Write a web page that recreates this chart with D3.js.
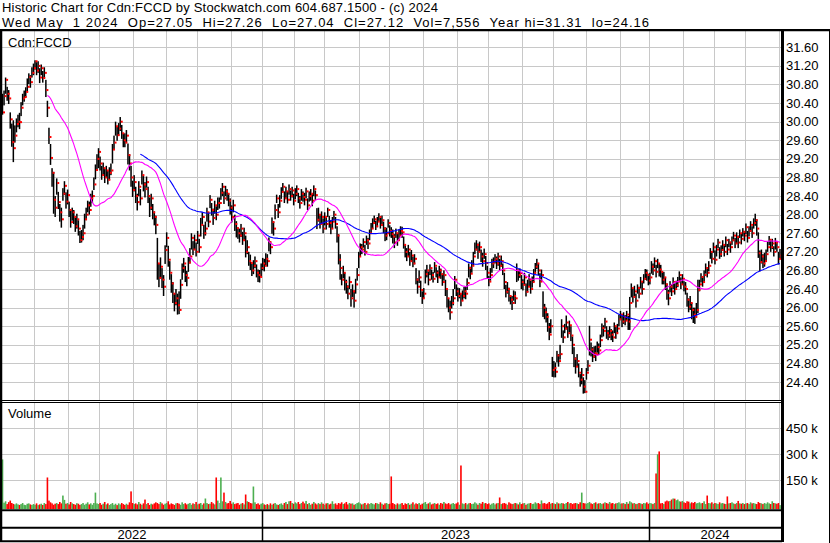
<!DOCTYPE html>
<html>
<head>
<meta charset="utf-8">
<script src="https://d3js.org/d3.v7.min.js"></script>
<style>
  body { margin: 0; background: #fff; }
  svg text { font-family: Arial, "Liberation Sans", sans-serif; fill: #000; }
</style>
</head>
<body>
<div id="chart"></div>
<script>
// Cdn:FCCD daily bars, May 2 2022 - May 1 2024
var titleLine = "Historic Chart for Cdn:FCCD by Stockwatch.com 604.687.1500 - (c) 2024";
var infoLine = "Wed May  1 2024  Op=27.05  Hi=27.26  Lo=27.04  Cl=27.12  Vol=7,556  Year hi=31.31  lo=24.16";

// daily close
var closes = [
  30.20,30.55,30.90,30.60,30.50,30.05,29.56,29.43,29.70,29.95,
  30.00,29.99,30.30,30.50,30.53,30.64,30.75,30.96,30.85,31.05,
  31.15,31.30,31.10,31.20,30.95,31.15,30.94,31.05,30.68,30.30,
  29.67,29.22,28.90,28.32,28.15,28.68,28.27,28.05,27.90,28.45,
  28.62,28.28,28.42,28.10,27.84,28.05,27.95,27.75,27.90,27.70,
  27.45,27.52,27.60,27.90,28.00,28.20,28.10,28.35,28.40,28.65,
  28.96,29.20,29.35,29.10,28.85,29.00,28.80,28.95,28.75,28.90,
  28.95,29.40,29.55,29.90,29.71,29.85,30.00,29.75,29.60,29.55,
  29.70,29.28,29.10,28.80,28.53,28.70,28.40,28.27,28.60,28.35,
  28.85,28.65,28.55,28.70,28.40,28.15,28.35,28.05,27.95,27.78,
  26.95,26.64,26.88,26.60,26.45,27.24,27.50,27.03,26.75,26.52,
  26.30,26.10,26.20,26.05,25.95,26.49,26.85,26.95,26.70,26.64,
  26.97,27.10,27.50,27.25,27.45,27.20,27.55,27.30,27.78,27.95,
  27.60,27.70,28.05,27.85,28.32,28.10,27.93,28.20,28.00,28.25,
  28.25,28.47,28.60,28.35,28.50,28.45,28.30,28.15,27.95,28.20,
  27.80,27.71,27.60,27.55,27.70,27.45,27.60,27.20,27.30,27.00,
  26.96,26.80,26.90,27.00,26.75,26.70,26.66,26.85,26.95,26.90,
  27.05,27.00,27.41,27.30,27.84,27.70,28.10,28.35,28.05,28.30,
  28.49,28.60,28.35,28.50,28.32,28.55,28.40,28.52,28.30,28.45,
  28.55,28.35,28.25,28.45,28.38,28.32,28.50,28.20,28.40,28.45,
  28.30,28.55,28.42,27.89,28.00,27.80,27.95,27.70,27.95,27.80,
  28.10,27.82,27.70,27.85,28.00,27.80,27.55,27.03,26.85,26.60,
  26.75,26.55,26.45,26.30,26.55,26.20,26.35,26.15,26.50,26.70,
  27.10,27.30,27.25,27.41,27.20,27.45,27.38,27.60,27.70,27.82,
  27.90,27.75,27.85,27.95,27.78,27.88,27.70,27.55,27.60,27.82,
  27.65,27.58,27.53,27.40,27.60,27.45,27.55,27.65,27.62,27.35,
  27.20,27.10,27.25,27.00,27.12,26.95,27.05,26.60,26.45,26.65,
  26.38,26.20,26.30,26.72,26.80,26.60,26.85,26.70,26.62,26.90,
  26.75,26.65,26.80,26.72,26.55,26.70,26.40,26.20,26.00,25.90,
  26.10,26.20,26.60,26.35,26.25,26.30,26.15,26.25,26.35,26.30,
  26.53,26.85,26.73,26.90,27.10,27.25,27.35,27.20,27.30,27.10,
  27.00,27.15,26.96,26.75,26.56,26.70,26.95,27.00,27.05,26.95,
  27.10,26.90,27.00,26.80,26.55,26.34,26.40,26.25,26.17,26.10,
  26.25,26.20,26.80,26.70,26.74,26.55,26.49,26.65,26.34,26.45,
  26.60,26.40,26.55,26.75,26.88,26.95,26.80,26.56,26.70,26.00,
  25.90,25.80,25.58,25.42,25.60,24.66,24.70,24.62,24.97,24.85,
  25.00,25.60,25.36,25.55,25.68,25.45,25.62,25.40,25.20,24.90,
  24.73,24.85,24.60,24.45,24.55,24.30,24.19,24.60,24.75,25.31,
  25.10,24.95,25.02,25.00,25.15,25.08,25.30,25.56,25.50,25.70,
  25.45,25.40,25.50,25.42,25.36,25.60,25.45,25.55,25.75,25.85,
  25.70,25.80,25.72,25.85,25.70,26.10,26.42,26.23,26.35,26.15,
  26.42,26.30,26.56,26.40,26.62,26.75,26.70,26.58,26.65,26.88,
  26.80,27.00,26.77,26.95,26.82,26.77,26.60,26.65,26.50,26.32,
  26.20,26.45,26.35,26.55,26.40,26.48,26.56,26.70,26.50,26.62,
  26.45,26.40,26.17,26.02,26.10,25.95,25.85,25.80,25.95,26.38,
  26.50,26.66,26.55,26.70,26.85,26.75,26.90,27.20,27.05,27.30,
  27.03,27.25,27.40,27.15,27.24,27.35,27.20,27.45,27.25,27.40,
  27.30,27.45,27.55,27.38,27.52,27.40,27.60,27.48,27.63,27.55,
  27.73,27.50,27.65,27.78,27.60,27.82,27.88,27.70,27.17,26.98,
  27.10,26.95,27.00,27.15,27.30,27.46,27.30,27.38,27.20,27.40,
  27.30,27.05,27.12
];

// high above close, cents
var highAbove = [
  40,12,5,15,18,15,40,60,22,12,
  15,20,12,10,14,10,18,8,15,12,
  10,2,18,10,20,8,15,12,22,15,
  20,30,10,60,25,10,22,18,25,12,
  10,20,12,18,25,10,15,20,12,18,
  20,15,18,12,15,10,18,10,12,15,
  12,10,8,15,20,12,18,10,20,12,
  15,12,15,10,20,12,10,18,15,20,
  12,25,20,25,20,15,20,18,12,20,
  10,18,15,12,20,22,10,18,12,20,
  55,30,20,25,25,10,12,30,25,20,
  25,20,20,25,40,12,10,12,20,15,
  12,18,10,18,12,20,10,18,15,10,
  18,15,10,20,10,15,20,10,18,12,
  12,10,8,15,12,10,15,20,25,12,
  20,15,12,15,10,18,12,35,15,20,
  18,15,12,10,18,12,15,10,12,15,
  12,15,10,12,10,15,12,8,18,12,
  10,8,15,10,18,10,12,8,15,12,
  8,12,15,10,12,15,8,15,10,10,
  15,8,10,25,15,20,12,22,10,15,
  5,15,18,10,8,15,20,55,30,12,
  15,20,15,18,12,20,15,22,12,15,
  10,8,12,8,15,10,12,8,12,10,
  8,12,10,8,15,10,15,18,12,8,
  12,15,15,18,10,15,12,10,12,18,
  15,18,10,20,12,15,10,25,18,15,
  20,15,12,10,12,18,8,12,15,8,
  12,15,10,12,18,10,20,18,20,25,
  15,20,8,15,18,12,15,12,10,15,
  10,10,15,12,10,15,10,18,12,15,
  18,12,15,15,12,15,10,8,10,15,
  8,15,12,15,20,15,15,18,10,15,
  12,15,15,12,10,15,12,10,18,15,
  12,18,12,8,8,10,15,18,12,35,
  18,20,30,25,15,28,15,20,10,15,
  20,15,15,10,15,15,10,20,18,25,
  20,15,20,12,15,20,25,10,12,30,
  15,20,15,18,12,15,12,10,12,8,
  15,12,10,12,15,8,15,10,10,8,
  12,10,12,8,12,13,10,18,12,15,
  8,15,10,15,10,8,12,15,10,12,
  15,8,15,10,12,15,18,12,15,20,
  18,12,15,10,12,10,10,8,15,10,
  12,15,15,18,15,15,15,20,15,22,
  10,8,12,10,10,12,10,8,15,10,
  20,10,8,15,10,10,15,8,12,8,
  12,8,8,12,10,15,8,12,8,10,
  8,15,10,8,15,10,14,20,45,25,
  15,20,18,10,12,8,15,10,12,10,
  12,15,14
];

// low below close, cents
var lowBelow = [
  5,20,30,15,12,20,10,30,15,18,
  12,15,18,15,10,12,10,15,12,10,
  15,18,10,15,12,15,10,12,15,20,
  15,15,30,30,20,25,15,20,18,15,
  20,15,20,15,12,18,15,12,20,15,
  6,12,15,20,12,15,10,18,15,12,
  20,25,35,15,10,15,12,15,10,15,
  10,30,15,20,12,15,20,12,15,10,
  15,20,15,20,15,20,15,18,20,15,
  20,15,18,12,15,20,25,15,18,20,
  35,20,25,18,20,30,20,15,15,20,
  20,18,15,20,9,30,25,20,15,18,
  20,15,25,12,20,10,18,12,25,15,
  12,15,20,12,18,12,15,18,12,15,
  12,15,20,12,10,15,12,15,12,15,
  15,20,12,15,18,10,15,12,15,10,
  15,12,18,15,10,15,12,18,15,12,
  15,12,20,15,25,15,20,10,12,15,
  15,12,10,15,8,12,10,15,10,12,
  15,10,12,15,10,12,15,10,12,15,
  12,15,10,20,15,10,15,10,18,12,
  15,10,12,15,12,10,15,10,25,12,
  12,18,15,12,15,18,12,15,20,12,
  25,20,10,12,8,10,12,15,10,12,
  10,8,12,10,8,12,10,12,15,10,
  12,8,15,12,10,12,8,10,12,8,
  12,10,15,10,12,8,12,10,15,12,
  15,12,10,20,15,12,15,10,8,15,
  10,12,15,10,8,12,15,20,10,16,
  12,15,20,10,12,10,12,10,15,12,
  15,20,12,15,20,10,12,15,10,12,
  12,10,15,12,10,12,20,15,10,12,
  20,10,12,10,15,12,10,12,10,15,
  10,12,25,12,10,15,12,15,10,12,
  15,10,12,20,15,12,10,12,15,20,
  15,12,10,12,15,15,20,12,15,12,
  12,25,12,10,15,10,15,12,20,18,
  15,12,10,15,20,15,3,15,12,34,
  15,12,10,15,12,10,15,20,12,15,
  12,10,15,12,10,15,12,10,15,12,
  12,15,10,12,18,58,20,12,10,15,
  12,10,15,12,10,15,12,10,15,15,
  10,15,12,10,15,12,10,15,12,15,
  15,12,10,15,12,10,12,15,10,12,
  10,12,15,12,15,20,18,15,12,50,
  15,12,10,15,12,10,12,15,10,12,
  10,15,12,10,15,12,10,15,12,10,
  12,10,12,10,15,12,10,12,10,12,
  15,10,12,15,10,12,12,15,10,20,
  15,10,12,15,10,12,10,12,10,15,
  10,12,8
];

// daily volume, thousands of shares
var volumes = [
  271,22,30,14,25,34,20,15,12,18,
  12,9,14,20,10,8,16,18,12,9,
  14,10,18,8,12,16,9,20,14,167,
  34,24,18,10,16,20,14,26,18,63,
  38,16,20,12,26,18,14,10,19,16,
  9,14,20,10,16,24,12,18,10,20,
  80,18,14,20,10,16,26,12,18,9,
  14,20,10,16,8,18,12,20,14,9,
  16,10,24,87,20,14,18,12,26,16,
  10,18,40,14,20,9,16,12,18,24,
  20,14,26,18,10,16,20,30,12,18,
  14,9,18,20,16,10,24,14,19,12,
  16,20,10,18,14,26,12,16,20,10,
  18,46,20,14,16,26,18,12,167,34,
  20,167,30,80,26,18,20,32,16,24,
  14,18,20,10,16,20,12,69,30,26,
  20,18,115,24,14,18,10,16,20,12,
  9,14,8,18,10,16,20,12,9,14,
  18,10,20,26,14,30,32,20,16,24,
  18,26,14,20,28,18,32,14,20,10,
  16,26,18,12,20,14,24,16,10,18,
  20,12,16,30,14,18,10,20,16,24,
  14,18,26,12,20,16,18,10,14,20,
  24,18,12,16,20,10,18,14,20,16,
  12,20,18,14,24,16,10,18,20,14,
  16,173,20,14,10,18,12,16,20,9,
  18,14,20,10,16,24,12,18,14,20,
  10,16,20,26,14,18,24,12,16,20,
  14,18,10,20,16,26,18,14,20,12,
  16,20,14,18,24,10,236,18,14,20,
  12,18,20,14,16,24,18,10,20,16,
  26,18,20,14,18,10,16,20,12,18,
  20,52,14,18,20,16,10,24,18,14,
  16,20,18,12,24,14,18,20,10,16,
  18,20,14,16,24,18,20,14,35,18,
  20,14,18,26,16,20,18,14,24,18,
  16,20,18,14,20,26,18,20,14,18,
  20,18,14,24,80,20,18,16,20,26,
  18,14,20,24,16,18,20,14,18,24,
  20,16,26,18,20,14,18,20,24,16,
  18,20,14,26,16,30,24,18,20,14,
  16,20,18,14,20,18,24,16,20,18,
  14,20,190,300,317,18,20,14,29,34,
  30,32,40,46,45,36,40,30,28,32,
  24,20,30,28,18,24,20,26,18,20,
  24,18,20,30,14,63,20,18,24,16,
  20,18,14,24,18,20,16,14,58,18,
  20,24,18,14,20,32,18,16,20,14,
  18,20,14,24,18,20,16,14,26,20,
  18,14,20,16,24,18,14,30,20,18,
  16,20,8
];

var priceTicks = [31.6, 31.2, 30.8, 30.4, 30.0, 29.6, 29.2, 28.8, 28.4, 28.0,
                  27.6, 27.2, 26.8, 26.4, 26.0, 25.6, 25.2, 24.8, 24.4];
var volTicks = [150, 300, 450];
var volTickLabels = ["150 k", "300 k", "450 k"];

// TSX holidays inside the range
var holidays = ["2022-05-23","2022-07-01","2022-08-01","2022-09-05","2022-10-10",
  "2022-12-26","2022-12-27","2023-01-02","2023-02-20","2023-04-07","2023-05-22",
  "2023-07-03","2023-08-07","2023-09-04","2023-10-09","2023-12-25","2023-12-26",
  "2024-01-01","2024-02-19","2024-03-29"];

var maShort = 30, maLong = 90;

/*** D3 CODE ***/
var w = 830, h = 543;
var plotLeft = 2, plotRight = 781;
var priceTop = 31, priceBottom = 400;
var volTop = 402, volBottom = 509;

var fmt = d3.timeFormat("%Y-%m-%d");
var days = d3.timeDay.range(new Date(2022, 4, 2), new Date(2024, 4, 2))
  .filter(function(d) { return d.getDay() > 0 && d.getDay() < 6 && holidays.indexOf(fmt(d)) < 0; });

var n = closes.length;

var xScale = d3.scaleLinear()
  .domain([0, n - 1])
  .range([2.5, 780]);

var yScale = d3.scaleLinear()
  .domain([24.4, 31.6])
  .range([382, 47.3]);

var vScale = d3.scaleLinear()
  .domain([0, 450])
  .range([506.5, 428.3]);

var svg = d3.select("#chart")
  .append("svg")
  .attr("width", w)
  .attr("height", h);

svg.append("rect").attr("width", w).attr("height", h).attr("fill", "#fff");

// month and year boundaries
var monthStarts = [], yearStarts = [];
days.forEach(function(d, i) {
  if (i == 0) return;
  if (d.getMonth() != days[i - 1].getMonth()) monthStarts.push(i);
  if (d.getFullYear() != days[i - 1].getFullYear()) yearStarts.push(i);
});

var grid = svg.append("g")
  .attr("stroke", "#c8c8c8")
  .attr("stroke-width", 1)
  .attr("shape-rendering", "crispEdges");

grid.selectAll(".hp")
  .data(priceTicks)
  .enter().append("line")
  .attr("x1", plotLeft).attr("x2", plotRight)
  .attr("y1", function(d) { return Math.round(yScale(d)) + 0.5; })
  .attr("y2", function(d) { return Math.round(yScale(d)) + 0.5; });

grid.selectAll(".hv")
  .data(volTicks)
  .enter().append("line")
  .attr("x1", plotLeft).attr("x2", plotRight)
  .attr("y1", function(d) { return Math.round(vScale(d)) + 0.5; })
  .attr("y2", function(d) { return Math.round(vScale(d)) + 0.5; });

grid.selectAll(".vm")
  .data(monthStarts)
  .enter().append("line")
  .attr("x1", function(d) { return Math.round(xScale(d - 0.5)) + 0.5; })
  .attr("x2", function(d) { return Math.round(xScale(d - 0.5)) + 0.5; })
  .attr("y1", priceTop).attr("y2", priceBottom);

grid.selectAll(".vm2")
  .data(monthStarts)
  .enter().append("line")
  .attr("x1", function(d) { return Math.round(xScale(d - 0.5)) + 0.5; })
  .attr("x2", function(d) { return Math.round(xScale(d - 0.5)) + 0.5; })
  .attr("y1", volTop).attr("y2", volBottom);

// price bars: high-low line, red close tick
var bars = closes.map(function(c, i) {
  return { i: i, c: c, hi: c + highAbove[i] / 100, lo: c - lowBelow[i] / 100 };
});

svg.append("g").selectAll("rect")
  .data(bars)
  .enter().append("rect")
  .attr("x", function(d) { return xScale(d.i) - 0.75; })
  .attr("width", 1.5)
  .attr("y", function(d) { return yScale(d.hi); })
  .attr("height", function(d) { return Math.max(1, yScale(d.lo) - yScale(d.hi)); })
  .attr("fill", "#000");

svg.append("g").selectAll("rect")
  .data(bars)
  .enter().append("rect")
  .attr("x", function(d) { return xScale(d.i) + 0.5; })
  .attr("width", 2)
  .attr("y", function(d) { return yScale(d.c) - 1; })
  .attr("height", 2)
  .attr("fill", "#ff0000");

// moving averages
function sma(len) {
  var out = [];
  for (var i = len - 1; i < n; i++) {
    out.push({ i: i, v: d3.mean(closes.slice(i - len + 1, i + 1)) });
  }
  return out;
}

var line = d3.line()
  .x(function(d) { return xScale(d.i); })
  .y(function(d) { return yScale(d.v); });

svg.append("path")
  .attr("d", line(sma(maLong)))
  .attr("fill", "none")
  .attr("stroke", "#0000ff")
  .attr("stroke-width", 1.1);

svg.append("path")
  .attr("d", line(sma(maShort)))
  .attr("fill", "none")
  .attr("stroke", "#ff00ff")
  .attr("stroke-width", 1.1);

// volume bars
svg.append("g").selectAll("rect")
  .data(volumes)
  .enter().append("rect")
  .attr("x", function(d, i) { return xScale(i) - 0.8; })
  .attr("width", 1.6)
  .attr("y", function(d) { return vScale(d); })
  .attr("height", function(d) { return volBottom - vScale(d); })
  .attr("fill", function(d, i) {
    if (i == 0 || closes[i] > closes[i - 1]) return "#4caf50";
    if (closes[i] < closes[i - 1]) return "#ff0000";
    return "#a0a0a0";
  });

// frame lines
function hline(y, x1, x2, sw) {
  svg.append("line").attr("x1", x1).attr("x2", x2).attr("y1", y).attr("y2", y)
    .attr("stroke", "#000").attr("stroke-width", sw);
}
function vline(x, y1, y2, sw) {
  svg.append("line").attr("x1", x).attr("x2", x).attr("y1", y1).attr("y2", y2)
    .attr("stroke", "#000").attr("stroke-width", sw);
}
hline(30.2, 0, w, 2.2);
hline(400.5, 0, plotRight + 1, 1);
hline(402.5, 0, plotRight + 1, 1);
hline(510.2, 0, plotRight + 1, 2);
hline(527.8, 0, plotRight + 1, 2);
hline(541.2, 0, plotRight + 1, 2);
vline(1, 30, 542, 2.5);
vline(782.5, 30, 542, 3);
vline(829.5, 30, 543, 1);

yearStarts.forEach(function(i) {
  vline(Math.round(xScale(i - 0.5)) + 0.5, 510, 541, 1.5);
});

// year labels centered in their spans
var yearEdges = [plotLeft].concat(yearStarts.map(function(i) { return xScale(i - 0.5); }), [plotRight]);
var yearNames = yearEdges.slice(1).map(function(e, k) { return String(days[0].getFullYear() + k); });
svg.selectAll(".yr")
  .data(yearNames)
  .enter().append("text")
  .attr("x", function(d, k) { return (yearEdges[k] + yearEdges[k + 1]) / 2; })
  .attr("y", 539)
  .style("text-anchor", "middle")
  .style("font-size", "13px")
  .text(function(d) { return d; });

// header
svg.append("text")
  .attr("x", 2).attr("y", 12)
  .style("font-size", "13px")
  .attr("textLength", 436).attr("lengthAdjust", "spacing")
  .text(titleLine);

svg.append("text")
  .attr("x", 2).attr("y", 26.5)
  .style("font-size", "13px")
  .style("white-space", "pre")
  .attr("xml:space", "preserve")
  .attr("textLength", 647).attr("lengthAdjust", "spacing")
  .text(infoLine);

svg.append("text")
  .attr("x", 8).attr("y", 47)
  .style("font-size", "13px")
  .text("Cdn:FCCD");

svg.append("text")
  .attr("x", 8).attr("y", 418)
  .style("font-size", "13px")
  .text("Volume");

// right axis labels
svg.selectAll(".pt")
  .data(priceTicks)
  .enter().append("text")
  .attr("x", 786)
  .attr("y", function(d) { return yScale(d) + 4.6; })
  .style("font-size", "13px")
  .text(function(d) { return d.toFixed(2); });

svg.selectAll(".vt")
  .data(volTicks)
  .enter().append("text")
  .attr("x", 786)
  .attr("y", function(d) { return vScale(d) + 4.6; })
  .style("font-size", "13px")
  .text(function(d, i) { return volTickLabels[i]; });
</script>
</body>
</html>
